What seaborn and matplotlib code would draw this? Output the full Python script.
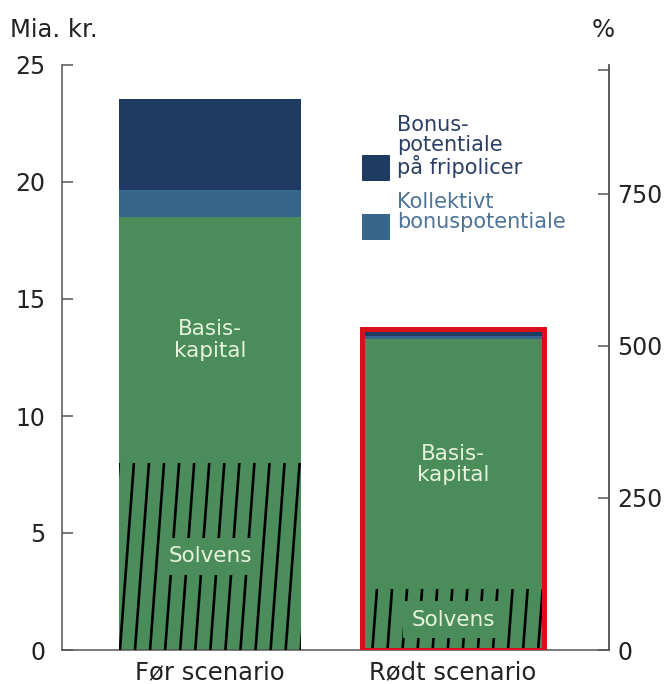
import numpy as np
import pandas as pd
import matplotlib
matplotlib.use("Agg")
import matplotlib.pyplot as plt
from matplotlib.patches import Rectangle
import seaborn as sns

# -------------------------------------------------
# Data (Mia. kr.)
# -------------------------------------------------
scenarios = ["Før scenario", "Rødt scenario"]
solvens = [8.0, 2.6]
basiskapital = [10.5, 10.67]
kollektivt = [1.15, 0.17]
fripolicer = [3.9, 0.26]

right_ticks = [0, 250, 500, 750]
pct_per_bn = 250 / 6.5  # right axis scale (% per Mia. kr.)

GREEN = "#4a8c5a"
BLUE = "#36668c"
NAVY = "#1f3a63"
RED = "#d8101c"
LABEL_C = "#e6f3dc"
AXIS_C = "#555555"

sns.set_theme(style="white")
plt.rcParams["font.family"] = ["DejaVu Sans"]

df = pd.DataFrame({
    "scenario": scenarios,
    "solvens": solvens,
    "basis": np.add(solvens, basiskapital),
})
df["kollektivt"] = df["basis"] + kollektivt
df["total"] = df["kollektivt"] + fripolicer

fig = plt.figure(figsize=(6.7, 6.84), dpi=100)
ax = fig.add_axes([62 / 670, 1 - 650 / 684, 547 / 670, 585 / 684])

# stacked bars: tallest first
for col, color in [("total", NAVY), ("kollektivt", BLUE), ("basis", GREEN), ("solvens", GREEN)]:
    sns.barplot(data=df, x="scenario", y=col, color=color, width=0.75,
                saturation=1, linewidth=0, ax=ax)

total_bars = ax.containers[0]
solv_bars = ax.containers[3]

# hatch for solvens (steep diagonal lines)
spacing = 0.062
slope = 0.0072
for bar in solv_bars:
    x0, w, h = bar.get_x(), bar.get_width(), bar.get_height()
    shift = slope * h
    for xs in np.arange(x0 - shift, x0 + w + spacing, spacing):
        ln, = ax.plot([xs, xs + shift], [0, h], color="black", lw=1.9, zorder=3)
        ln.set_clip_path(bar)

# red outline around red scenario
rb = total_bars[1]
ax.add_patch(Rectangle((rb.get_x(), 0), rb.get_width(), rb.get_height(),
                       fill=False, edgecolor=RED, linewidth=3.6, zorder=5,
                       joinstyle="miter"))

# labels inside bars
for i in range(len(scenarios)):
    ax.text(i, (df["solvens"][i] + df["basis"][i]) / 2, "Basis-\nkapital",
            ha="center", va="center", color=LABEL_C, fontsize=15.5, zorder=4,
            linespacing=1.1)
    ax.text(i, df["solvens"][i] / 2, "Solvens", ha="center", va="center",
            color=LABEL_C, fontsize=15.5, zorder=4,
            bbox=dict(facecolor=GREEN, edgecolor="none", pad=6))

ax.set_xlim(-0.609, 1.642)
ax.set_ylim(0, 25)
ax.set_yticks([0, 5, 10, 15, 20, 25])
ax.set_xlabel("")
ax.set_ylabel("")
ax.tick_params(axis="y", direction="in", length=8, width=1.1, color=AXIS_C,
               labelsize=17, pad=12, labelcolor="#222222")
ax.tick_params(axis="x", length=0, labelsize=17.5, pad=7, labelcolor="#222222")
for s in ["left", "bottom", "right"]:
    ax.spines[s].set_color(AXIS_C)
    ax.spines[s].set_linewidth(1.1)
ax.spines["top"].set_visible(False)

ax2 = ax.twinx()
ax2.set_ylim(0, 25 * pct_per_bn)
top = 24.8 * pct_per_bn
ax2.set_yticks(right_ticks + [top])
ax2.set_yticklabels([str(t) for t in right_ticks] + [""])
ax2.tick_params(axis="y", direction="in", length=8, width=1.1, color=AXIS_C,
                labelsize=17, pad=6, labelcolor="#222222")
for s in ["left", "bottom", "top"]:
    ax2.spines[s].set_visible(False)
ax2.spines["right"].set_color(AXIS_C)
ax2.spines["right"].set_linewidth(1.1)
ax2.grid(False)
ax.grid(False)

fig.text(10 / 670, 1 - 30 / 684, "Mia. kr.", fontsize=17.5, va="center",
         color="#222222")
fig.text(603 / 670, 1 - 30 / 684, "%", fontsize=17.5, va="center", ha="center",
         color="#222222")

# legend
fig.patches.append(Rectangle((362 / 670, 1 - 181 / 684), 28 / 670, 26 / 684,
                             transform=fig.transFigure, facecolor=NAVY,
                             edgecolor="none"))
fig.patches.append(Rectangle((362 / 670, 1 - 240 / 684), 28 / 670, 26 / 684,
                             transform=fig.transFigure, facecolor=BLUE,
                             edgecolor="none"))
fig.text(397 / 670, 1 - 115 / 684, "Bonus-\npotentiale\npå fripolicer",
         fontsize=15, va="top", color="#2b3f66", linespacing=1.0)
fig.text(397 / 670, 1 - 192 / 684, "Kollektivt\nbonuspotentiale",
         fontsize=15, va="top", color="#4d7399", linespacing=1.0)

fig.savefig("out.png", dpi=100)
